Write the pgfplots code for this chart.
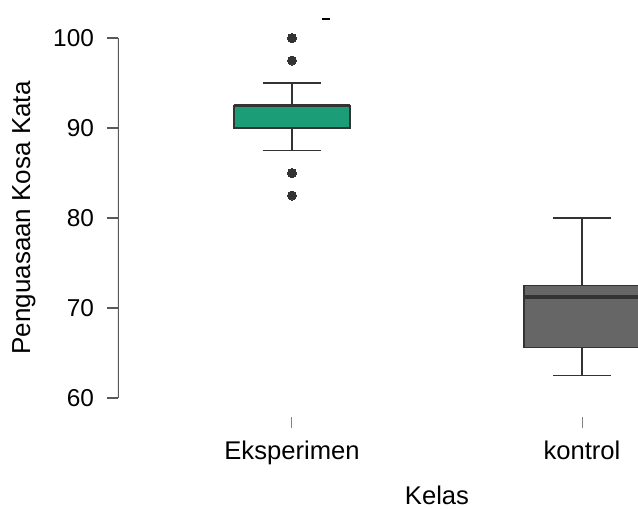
\documentclass[border=0pt]{standalone}
\usepackage{fontspec}
\setmainfont{Liberation Sans}
\usepackage{pgfplots}
\pgfplotsset{compat=1.18}
\usepgfplotslibrary{statistics}
\definecolor{jgreen}{HTML}{1B9E77}
\definecolor{jgray}{HTML}{666666}
\definecolor{jdark}{HTML}{333333}
\begin{document}
\begin{tikzpicture}
\begin{axis}[
  name=ax,
  x=145pt, y=4.5pt,
  xmin=-0.6, xmax=1.1931,
  ymin=57.889, ymax=104.222,
  axis line style={draw=none},
  tick align=outside, tick pos=left,
  major tick length=5.5pt,
  xtick={0,1}, xticklabels={Eksperimen,kontrol},
  ytick={60,70,80,90,100},
  /pgf/number format/assume math mode=true,
  xtick style={draw=black!50, line width=0.5pt},
  ytick style={draw=black!65, line width=0.6pt},
  yticklabel style={font=\fontsize{12.2}{14}\selectfont, xshift=-3pt},
  xticklabel style={font=\fontsize{12.8}{15}\selectfont, anchor=base, yshift=-15.5pt},
  xlabel={Kelas},
  ylabel={Penguasaan Kosa Kata},
  every axis x label/.style={at={(axis description cs:0.6135,-0.2110)}, anchor=base, font=\fontsize{12.8}{15}\selectfont},
  every axis y label/.style={at={(axis description cs:-0.1808,0.4772)}, rotate=90, anchor=center, font=\fontsize{13}{15}\selectfont},
  boxplot/draw direction=y,
]
\draw[black!65, line width=0.6pt] (axis cs:-0.6,60) -- (axis cs:-0.6,100);
\addplot+[
  boxplot prepared={draw position=0, lower whisker=87.5, lower quartile=90,
    median=92.5, upper quartile=92.5, upper whisker=95,
    box extend=0.4, whisker extend=0.2},
  solid, draw=jdark, fill=jgreen, line width=0.8pt,
  mark=*, mark size=2.25pt, mark options={fill=jdark, draw=jdark, line width=0pt},
  boxplot/every median/.append style={line width=1.9pt},
] table[row sep=\\, y index=0] {y\\ 100\\ 97.5\\ 85\\ 82.5\\};
\addplot+[
  boxplot prepared={draw position=1, lower whisker=62.5, lower quartile=65.6,
    median=71.2, upper quartile=72.5, upper whisker=80,
    box extend=0.4, whisker extend=0.2},
  solid, draw=jdark, fill=jgray, line width=0.8pt, mark=none,
  boxplot/every median/.append style={line width=1.9pt},
] coordinates {};
\draw[black, line width=1.3pt] (axis cs:0.103,102.1) -- (axis cs:0.131,102.1);
\end{axis}
\pgfresetboundingbox
\useasboundingbox ([shift={(-59pt,-46pt)}]ax.south west) rectangle (ax.north east);
\end{tikzpicture}
\end{document}
